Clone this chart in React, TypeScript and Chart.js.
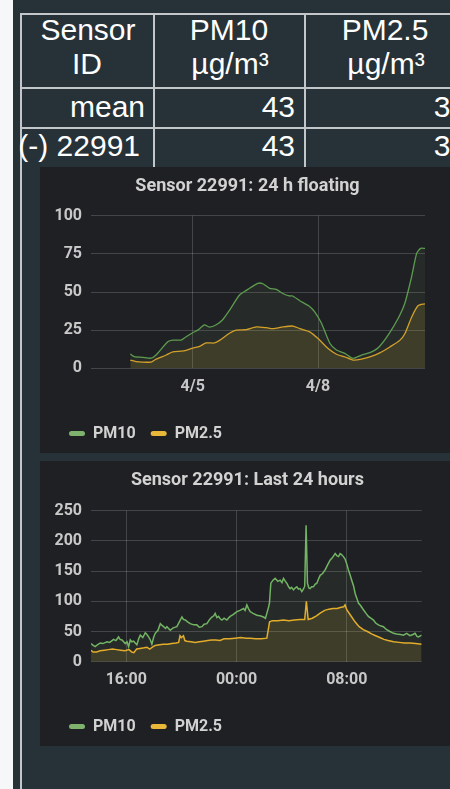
import React, { useEffect, useRef } from "react";
import { Chart, registerables } from "chart.js";
Chart.register(...registerables);

// ---------- table ----------
const tableHeader1 = ["Sensor", "PM10", "PM2.5"];
const tableHeader2 = ["ID", "µg/m³", "µg/m³"];
const rowMean = ["mean", "43", "30"];
const rowSensor = ["(-) 22991", "43", "30"];

// ---------- chart 1: 24 h floating (x = hours relative to 4/5 00:00) ----------
const floatPM10Hours = [-35.9, -33.6, -28.8, -24.0, -21.1, -14.4, -11.5, -6.7, -3.8, 0, 2.9, 6.7, 9.6, 13.5, 17.3, 21.1, 26.9, 31.7, 37.4, 40.3, 44.2, 48.0, 51.8, 55.5, 57.4, 61.5, 67.3, 70.1, 74.0, 78.8, 82.6, 87.4, 92.2, 97.0, 101.8, 106.6, 112.3, 118.1, 121.9, 125.8, 128.7, 131.0, 133.5];
const floatPM10Values = [9.4, 7.6, 7.2, 6.6, 8.7, 17.4, 18.5, 18.5, 20.7, 23.3, 25, 28.4, 27, 28.5, 32, 38, 48, 51.7, 55.7, 55.4, 52.4, 51.7, 49, 47.4, 47.4, 44.3, 40.4, 37, 29.5, 16.4, 12, 9.8, 6.5, 8.7, 10.3, 13.5, 21.8, 32.8, 42.6, 60, 75.3, 78.6, 78.6];
const floatPM25Hours = [-35.9, -32.6, -24.0, -21.1, -15.3, -11.5, -6.7, -3.8, 0, 3.9, 7.7, 12.5, 15.4, 21.1, 25, 30.8, 36.5, 42.3, 46.1, 51.8, 57.6, 61.5, 67.2, 72, 77.8, 82.6, 87.4, 92.2, 97, 101.8, 107.5, 113.3, 119, 121.9, 125.8, 129.6, 133.5];
const floatPM25Values = [5.4, 4.4, 4.1, 6, 8.7, 10.8, 11.2, 11.8, 13.3, 14.4, 16.6, 16.6, 18.3, 23, 25, 25.3, 27.1, 26.6, 26, 27.1, 27.7, 26, 23.9, 19.5, 13, 9.2, 7.5, 5.4, 6, 7.5, 10.1, 14, 18.3, 22.6, 33.5, 41.1, 42.2];
const floatTickHours = [0, 72];
const floatTickLabels = ["4/5", "4/8"];

// ---------- chart 2: last 24 hours (x = hours since day-1 00:00) ----------
const dayPM10Hours = [13.44, 13.6, 13.75, 13.9, 14.11, 14.3, 14.6, 14.8, 15.08, 15.25, 15.44, 15.55, 15.69, 15.93, 16.05, 16.17, 16.29, 16.4, 16.53, 16.65, 16.77, 16.9, 17.02, 17.2, 17.38, 17.5, 17.62, 17.75, 17.86, 17.98, 18.1, 18.3, 18.47, 18.6, 18.71, 18.85, 18.95, 19.07, 19.19, 19.4, 19.67, 19.85, 20.04, 20.15, 20.28, 20.45, 20.64, 20.9, 21.12, 21.3, 21.49, 21.65, 21.85, 22.05, 22.21, 22.35, 22.45, 22.58, 22.7, 22.82, 22.94, 23.1, 23.3, 23.45, 23.54, 23.75, 24.03, 24.25, 24.51, 24.62, 24.75, 24.87, 24.99, 25.2, 25.48, 25.7, 25.96, 26.1, 26.2, 26.32, 26.39, 26.49, 26.65, 26.8, 27.0, 27.17, 27.3, 27.41, 27.55, 27.65, 27.78, 27.89, 28.0, 28.13, 28.25, 28.38, 28.5, 28.62, 28.74, 28.85, 28.95, 29.05, 29.15, 29.25, 29.34, 29.45, 29.58, 29.7, 29.83, 29.95, 30.07, 30.25, 30.43, 30.6, 30.79, 30.95, 31.16, 31.3, 31.4, 31.52, 31.64, 31.76, 31.88, 32.0, 32.12, 32.25, 32.36, 32.5, 32.61, 32.75, 32.85, 33.0, 33.21, 33.4, 33.57, 33.75, 33.94, 34.1, 34.3, 34.5, 34.66, 34.9, 35.14, 35.4, 35.63, 35.9, 36.11, 36.35, 36.59, 36.8, 36.96, 37.1, 37.2, 37.44];
const dayPM10Values = [30, 27, 25, 28, 31, 30, 33, 32, 37, 35, 41, 37, 36, 30, 33, 25, 36, 33, 34, 31, 28, 38, 44, 40, 48, 45, 41, 36, 29, 40, 47, 52, 63, 60, 58, 55, 58, 55, 52, 56, 58, 66, 74, 70, 69, 66, 63, 61, 61, 57, 58, 62, 63, 70, 74, 76, 80, 73, 75, 71, 69, 72, 69, 73, 75, 78, 83, 85, 88, 85, 94, 88, 83, 80, 77, 76, 74, 72, 80, 90, 97, 130, 135, 138, 133, 135, 131, 138, 133, 130, 124, 121, 123, 119, 122, 124, 120, 121, 116, 120, 125, 226, 130, 122, 121, 124, 124, 128, 130, 137, 143, 146, 152, 160, 168, 172, 179, 175, 174, 179, 177, 174, 170, 162, 152, 143, 135, 125, 113, 104, 97, 93, 86, 80, 75, 72, 69, 64, 61, 59, 58, 53, 50, 47, 46, 45, 44, 47, 43, 45, 47, 42, 41, 44];
const dayPM25Hours = [13.44, 13.6, 13.85, 14.1, 14.4, 14.7, 15.0, 15.3, 15.6, 15.9, 16.2, 16.4, 16.55, 16.75, 17.0, 17.3, 17.5, 17.7, 17.9, 18.1, 18.4, 18.7, 19.0, 19.3, 19.6, 19.8, 19.9, 20.0, 20.15, 20.25, 20.4, 20.7, 21.0, 21.3, 21.6, 21.9, 22.2, 22.5, 22.8, 23.1, 23.5, 23.9, 24.3, 24.7, 25.0, 25.4, 25.8, 26.2, 26.4, 26.6, 27.0, 27.4, 27.8, 28.2, 28.6, 28.95, 29.07, 29.2, 29.5, 29.8, 30.1, 30.4, 30.7, 31.0, 31.3, 31.6, 31.78, 31.88, 32.0, 32.3, 32.6, 32.9, 33.2, 33.5, 33.8, 34.1, 34.4, 34.7, 35.0, 35.4, 35.8, 36.2, 36.6, 37.0, 37.44];
const dayPM25Values = [19, 16, 16, 18, 19, 20, 21, 20, 19, 18, 20, 16, 15, 21, 22, 23, 24, 21, 24, 27, 28, 29, 29, 30, 31, 32, 43, 40, 43, 35, 34, 33, 32, 33, 34, 35, 36, 36, 35, 38, 38, 39, 40, 39, 39, 38, 38, 39, 66, 68, 68, 69, 68, 69, 70, 70, 100, 70, 72, 76, 81, 85, 87, 88, 88, 90, 91, 94, 86, 76, 66, 58, 53, 50, 46, 43, 40, 37, 35, 33, 32, 31, 31, 30, 29];
const dayTickHours = [16, 24, 32];
const dayTickLabels = ["16:00", "00:00", "08:00"];

const seriesLabels = ["PM10", "PM2.5"];

const FONT = "Roboto, 'Liberation Sans', Arial, sans-serif";
Chart.defaults.font.family = FONT;

type ChartProps = {
  title: string;
  xs10: number[]; ys10: number[]; xs25: number[]; ys25: number[];
  tickVals: number[]; tickLabels: string[];
  xmin: number; xmax: number; ymax: number; ystep: number;
  h: number; titleTop: number; titleBottom: number; titleShift: number; padRight: number; xAxisH: number;
  green: string; yellow: string; lw: number; tension: number;
};

function SensorChart(p: ChartProps) {
  const ref = useRef<HTMLCanvasElement>(null);
  useEffect(() => {
    const legendColors = ["#7eb26d", "#eab839"];
    const tickFont = { family: FONT, size: 16, weight: "bold" as const };
    const titleShift = {
      id: "titleShift",
      afterLayout(chart: any) {
        const t = chart.titleBlock;
        if (t) {
          t.left += p.titleShift;
          t.right += p.titleShift;
        }
      },
    };
    const chart = new Chart(ref.current as HTMLCanvasElement, {
      type: "line",
      data: {
        datasets: [
          {
            label: seriesLabels[0],
            data: p.xs10.map((x, i) => ({ x, y: p.ys10[i] })),
            borderColor: p.green,
            backgroundColor: "rgba(126,178,109,0.08)",
            fill: "origin",
            borderWidth: p.lw,
            pointRadius: 0,
            tension: p.tension,
            order: 2,
          },
          {
            label: seriesLabels[1],
            data: p.xs25.map((x, i) => ({ x, y: p.ys25[i] })),
            borderColor: p.yellow,
            backgroundColor: "rgba(234,184,57,0.13)",
            fill: "origin",
            borderWidth: p.lw,
            pointRadius: 0,
            tension: p.tension,
            order: 1,
          },
        ],
      },
      options: {
        responsive: false,
        animation: false,
        layout: { padding: { left: 14, right: p.padRight, top: 0, bottom: 1.5 } },
        plugins: {
          title: {
            display: true,
            text: p.title,
            color: "#d2d2d2",
            font: { family: FONT, size: 18, weight: "bold" },
            padding: { top: p.titleTop, bottom: p.titleBottom },
          },
          legend: {
            position: "bottom",
            align: "start",
            labels: {
              boxWidth: 16,
              boxHeight: 5,
              useBorderRadius: true,
              borderRadius: 2.5,
              padding: 15,
              color: "#d2d2d2",
              font: { family: FONT, size: 16, weight: "bold" },
              generateLabels: (c: any) =>
                c.data.datasets.map((d: any, i: number) => ({
                  text: d.label,
                  fillStyle: legendColors[i],
                  strokeStyle: legendColors[i],
                  lineWidth: 0,
                  hidden: false,
                  datasetIndex: i,
                  borderRadius: 2.5,
                  fontColor: "#d2d2d2",
                })),
            },
          },
          tooltip: { enabled: false },
        },
        scales: {
          x: {
            type: "linear",
            min: p.xmin,
            max: p.xmax,
            afterBuildTicks: (s: any) => {
              s.ticks = p.tickVals.map((v) => ({ value: v }));
            },
            afterFit: (s: any) => {
              s.height = p.xAxisH;
            },
            ticks: {
              autoSkip: false,
              maxRotation: 0,
              padding: 9,
              color: "#c8c8c8",
              font: tickFont,
              callback: (v: any) => {
                const i = p.tickVals.indexOf(Number(v));
                return i >= 0 ? p.tickLabels[i] : "";
              },
            },
            grid: { color: "rgba(255,255,255,0.17)", drawTicks: false, lineWidth: 1 },
            border: { display: false },
          },
          y: {
            min: 0,
            max: p.ymax,
            afterFit: (s: any) => {
              s.width = 37;
            },
            ticks: { stepSize: p.ystep, padding: 9, color: "#c8c8c8", font: tickFont },
            grid: { color: "rgba(255,255,255,0.17)", drawTicks: false, lineWidth: 1 },
            border: { display: false },
          },
        },
      },
      plugins: [titleShift],
    } as any);
    return () => chart.destroy();
  }, []);
  return <canvas ref={ref} width={410} height={p.h} style={{ display: "block" }} />;
}

const TXT: React.CSSProperties = {
  position: "absolute",
  color: "#ffffff",
  fontFamily: "'Liberation Sans', Arial, sans-serif",
  fontSize: 30,
  lineHeight: "30px",
  whiteSpace: "nowrap",
};

function Center({ cx, top, children }: { cx: number; top: number; children: React.ReactNode }) {
  return <div style={{ ...TXT, left: cx - 100, width: 200, top, textAlign: "center" }}>{children}</div>;
}
function Right({ rx, top, children }: { rx: number; top: number; children: React.ReactNode }) {
  return <div style={{ ...TXT, right: 450 - rx, top, textAlign: "right" }}>{children}</div>;
}

const LINE = "#c4c7c9";

export default function App() {
  return (
    <div style={{ position: "fixed", left: 0, top: 0, width: 450, height: 789, overflow: "hidden", background: "#263238" }}>
      <div style={{ position: "absolute", left: 0, top: 0, width: 13, height: 789, background: "#f5f7f9" }} />
      {/* table borders */}
      <div style={{ position: "absolute", left: 20, top: 13, width: 2, height: 776, background: LINE }} />
      <div style={{ position: "absolute", left: 153, top: 13, width: 2, height: 160, background: LINE }} />
      <div style={{ position: "absolute", left: 304, top: 13, width: 2, height: 160, background: LINE }} />
      <div style={{ position: "absolute", left: 20, top: 13, width: 430, height: 2, background: LINE }} />
      <div style={{ position: "absolute", left: 20, top: 87, width: 430, height: 2, background: LINE }} />
      <div style={{ position: "absolute", left: 20, top: 127, width: 430, height: 2, background: LINE }} />
      {/* header */}
      <Center cx={88} top={14.6}>{tableHeader1[0]}</Center>
      <Center cx={87} top={49.1}>{tableHeader2[0]}</Center>
      <Center cx={229} top={14.6}>{tableHeader1[1]}</Center>
      <Center cx={230} top={49.1}>{tableHeader2[1]}</Center>
      <Center cx={385} top={14.6}>{tableHeader1[2]}</Center>
      <Center cx={386} top={49.1}>{tableHeader2[2]}</Center>
      {/* rows */}
      <Right rx={145} top={91.9}>{rowMean[0]}</Right>
      <Right rx={295} top={91.9}>{rowMean[1]}</Right>
      <Right rx={467} top={91.9}>{rowMean[2]}</Right>
      <Right rx={140} top={130.6}>{rowSensor[0]}</Right>
      <Right rx={295} top={130.6}>{rowSensor[1]}</Right>
      <Right rx={467} top={130.6}>{rowSensor[2]}</Right>
      {/* panel 1 */}
      <div style={{ position: "absolute", left: 40, top: 167, width: 410, height: 286, background: "#1f2023" }}>
        <SensorChart
          title="Sensor 22991: 24 h floating"
          xs10={floatPM10Hours} ys10={floatPM10Values} xs25={floatPM25Hours} ys25={floatPM25Values}
          tickVals={floatTickHours} tickLabels={floatTickLabels}
          xmin={-58.5} xmax={133.5} ymax={100} ystep={25}
          h={286} titleTop={8.9} titleBottom={18.2} titleShift={8} padRight={25} xAxisH={42.2}
          green="#5d9c4f" yellow="#d3a02a" lw={1.3} tension={0.2}
        />
      </div>
      {/* panel 2 */}
      <div style={{ position: "absolute", left: 40, top: 461, width: 410, height: 285, background: "#1f2023" }}>
        <SensorChart
          title="Sensor 22991: Last 24 hours"
          xs10={dayPM10Hours} ys10={dayPM10Values} xs25={dayPM25Hours} ys25={dayPM25Values}
          tickVals={dayTickHours} tickLabels={dayTickLabels}
          xmin={13.44} xmax={37.44} ymax={250} ystep={50}
          h={285} titleTop={8.2} titleBottom={19.9} titleShift={9.6} padRight={28.3} xAxisH={41.8}
          green="#73b464" yellow="#e3ad2b" lw={1.5} tension={0}
        />
      </div>
    </div>
  );
}
